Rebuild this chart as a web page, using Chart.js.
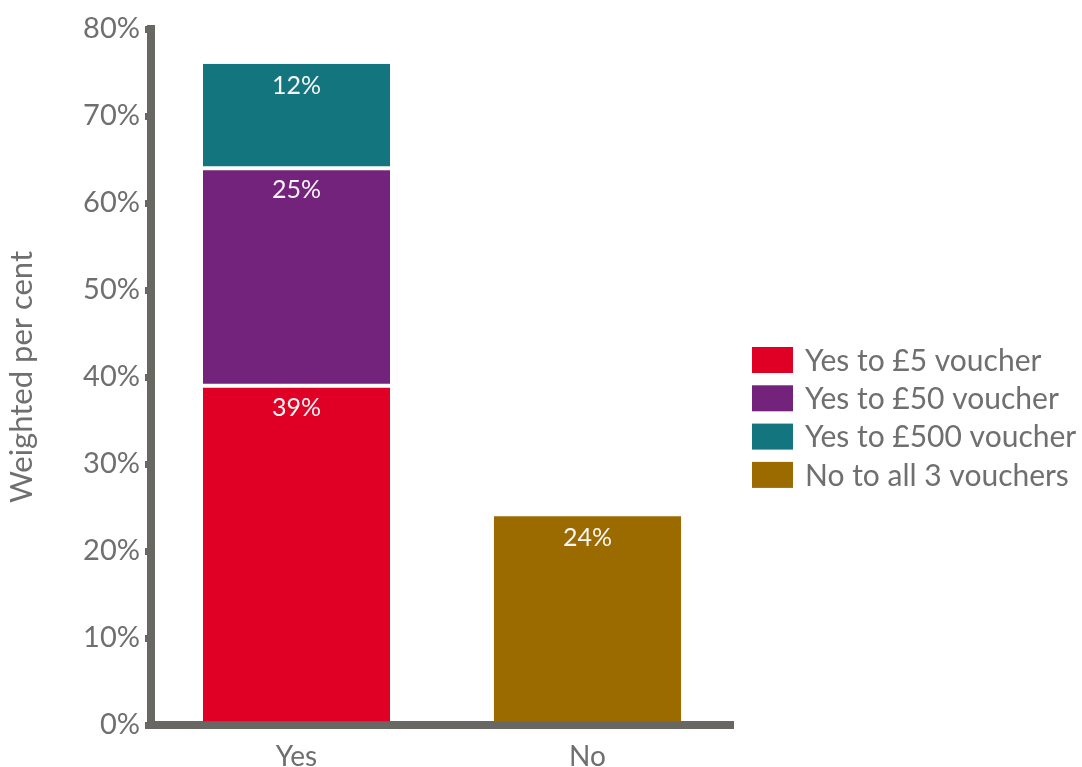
<!DOCTYPE html>
<html>
<head>
<meta charset="utf-8">
<title>Voucher responses</title>
<script src="https://cdn.jsdelivr.net/npm/chart.js@4.4.0/dist/chart.umd.min.js"></script>
<style>
  html, body { margin: 0; padding: 0; background: #fff; }
  #wrap { width: 1082px; height: 767px; }
</style>
</head>
<body>
<div id="wrap"><canvas id="voucherChart" width="1082" height="767"></canvas></div>
<script>
// === DATA ===
const categories = ["Yes", "No"];
const seriesNames = ["Yes to £5 voucher", "Yes to £50 voucher", "Yes to £500 voucher", "No to all 3 vouchers"];
const yes5 = [39, null];
const yes50 = [25, null];
const yes500 = [12, null];
const noAll = [null, 24];
const yTicks = [0, 10, 20, 30, 40, 50, 60, 70, 80];

const colors = ["#e00025", "#74237d", "#13767f", "#9c6b00"];
const axisGray = "#686763";
const textGray = "#6f6f6f";
const FONT = "Lato, 'Noto Sans', sans-serif";

// segment labels, drawn just under the top of each segment
const segmentLabels = {
  id: "segmentLabels",
  afterDatasetsDraw(chart) {
    const ctx = chart.ctx;
    ctx.save();
    ctx.font = "25px " + FONT;
    ctx.fillStyle = "#f5f5f5";
    ctx.textAlign = "center";
    ctx.textBaseline = "middle";
    chart.data.datasets.forEach((ds, i) => {
      const meta = chart.getDatasetMeta(i);
      meta.data.forEach((bar, j) => {
        const v = ds.data[j];
        if (v === null || v === undefined) return;
        ctx.fillText(v + "%", bar.x, bar.y + 22);
      });
    });
    ctx.restore();
  },
};

// legend on the right, box + text per series
const sideLegend = {
  id: "sideLegend",
  afterDraw(chart) {
    const ctx = chart.ctx;
    const x = chart.chartArea.right + 19;
    const top = 347;
    const step = 38.3;
    ctx.save();
    ctx.font = "30px " + FONT;
    ctx.textAlign = "left";
    ctx.textBaseline = "middle";
    chart.data.datasets.forEach((ds, i) => {
      const y = top + i * step;
      ctx.fillStyle = ds.backgroundColor;
      ctx.fillRect(x, y, 41, 26);
      ctx.fillStyle = textGray;
      ctx.fillText(ds.label, x + 53, y + 14);
    });
    ctx.restore();
  },
};

const ctx = document.getElementById("voucherChart").getContext("2d");
const voucherChart = new Chart(ctx, {
  type: "bar",
  data: {
    labels: categories,
    datasets: [
      { label: seriesNames[0], data: yes5, backgroundColor: colors[0], borderColor: "#fff", borderWidth: { top: 2 }, borderSkipped: false },
      { label: seriesNames[1], data: yes50, backgroundColor: colors[1], borderColor: "#fff", borderWidth: { top: 2, bottom: 2 }, borderSkipped: false },
      { label: seriesNames[2], data: yes500, backgroundColor: colors[2], borderColor: "#fff", borderWidth: { bottom: 2 }, borderSkipped: false },
      { label: seriesNames[3], data: noAll, backgroundColor: colors[3], borderWidth: 0 },
    ],
  },
  options: {
    responsive: false,
    animation: false,
    events: [],
    layout: { padding: { top: 29, right: 349, bottom: 0, left: 0 } },
    datasets: { bar: { barPercentage: 0.643, categoryPercentage: 1 } },
    scales: {
      x: {
        stacked: true,
        grid: { display: false },
        border: { display: true, color: axisGray, width: 8 },
        ticks: { color: textGray, font: { family: FONT, size: 28 }, padding: 7 },
        afterFit(scale) { scale.height = 42; },
      },
      y: {
        stacked: true,
        min: 0,
        max: 80,
        afterBuildTicks(scale) { scale.ticks = yTicks.map((v) => ({ value: v })); },
        grid: { display: true, drawOnChartArea: false, drawTicks: true, tickLength: 6, lineWidth: 7, color: axisGray },
        border: { display: true, color: axisGray, width: 8 },
        ticks: {
          color: textGray,
          font: { family: FONT, size: 29 },
          padding: 5,
          callback: (v) => v + "%",
        },
        title: {
          display: true,
          text: "Weighted per cent",
          color: textGray,
          font: { family: FONT, size: 31 },
          padding: { top: 3, bottom: 4 },
        },
        afterFit(scale) { scale.width = 151; },
      },
    },
    plugins: {
      legend: { display: false },
      tooltip: { enabled: false },
    },
  },
  plugins: [segmentLabels, sideLegend],
});
</script>
</body>
</html>
